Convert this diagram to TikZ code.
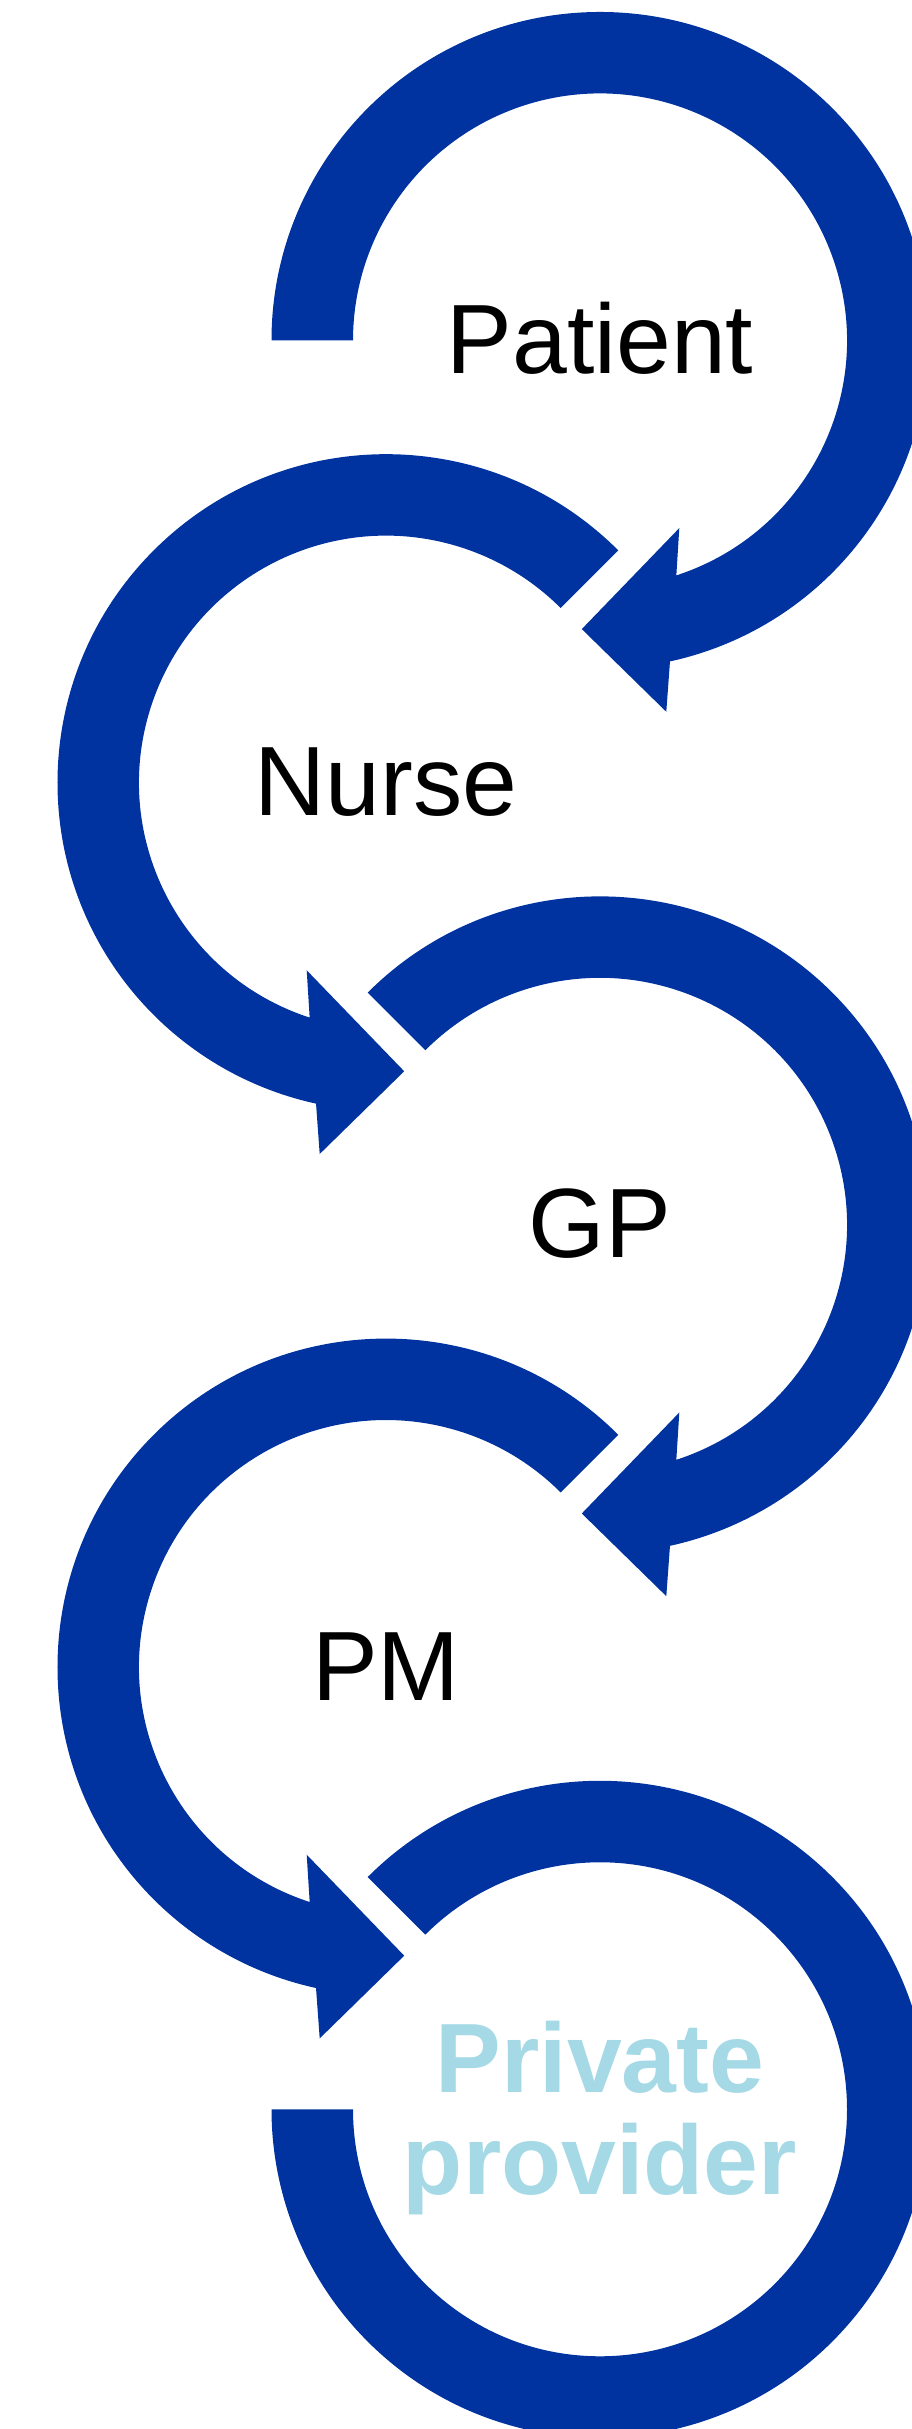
\documentclass[tikz,border=0pt]{standalone}
\usepackage{fontspec}
\setmainfont{Liberation Sans}
\usepackage{tikz}

\definecolor{ringblue}{RGB}{0,51,160}
\definecolor{provblue}{RGB}{165,217,230}

\begin{document}
\begin{tikzpicture}[x=1pt,y=1pt]
	\useasboundingbox (0,0) rectangle (912,2429);
	\clip (0,0) rectangle (912,2429);
	
	\tikzstyle{ring}=[fill=ringblue]
	\tikzstyle{names}=[inner sep=0pt,anchor=base,yshift=-33pt,font=\fontsize{98.5}{102}\selectfont]
	\tikzstyle{provname}=[inner sep=0pt,align=center,anchor=center,yshift=-9pt,text=provblue,font=\fontsize{98.5}{102}\selectfont\bfseries]
	
	%Centres
	\foreach \name/\x/\y in {c1/600/2088.5, c2/386/1646.3, c3/600/1204.1, c4/386/761.9, c5/600/319.7}
	\coordinate (\name) at (\x,\y);
	
	%Rings with arrowheads
	\foreach \c/\s/\m in {c1/180/1, c2/135/-1, c3/135/1, c4/135/-1}
	{
	\begin{scope}[shift={(\c)},xscale=\m]
	\fill[ring] (\s:328.5) arc[start angle=\s,end angle=-77.7,radius=328.5pt] -- (66.3,-371.3) -- (-18.2,-288.6) -- (79.3,-187.6) -- (-72:247) arc[start angle=-72,end angle=\s,radius=247pt] -- cycle;
	\end{scope}
	}
	
	%Last ring
	\fill[ring,shift={(c5)}] (135:328.5) arc[start angle=135,end angle=-180,radius=328.5pt] -- (180:247) arc[start angle=-180,end angle=135,radius=247pt] -- cycle;
	
	%Labels
	\foreach \name/\txt/\c in {patient/Patient/c1, nurse/Nurse/c2, gp/GP/c3, pm/PM/c4}
	\node[names] (\name) at (\c) {\txt};
	\node[provname] (provider) at (c5) {Private\\provider};
	
\end{tikzpicture}
\end{document}
